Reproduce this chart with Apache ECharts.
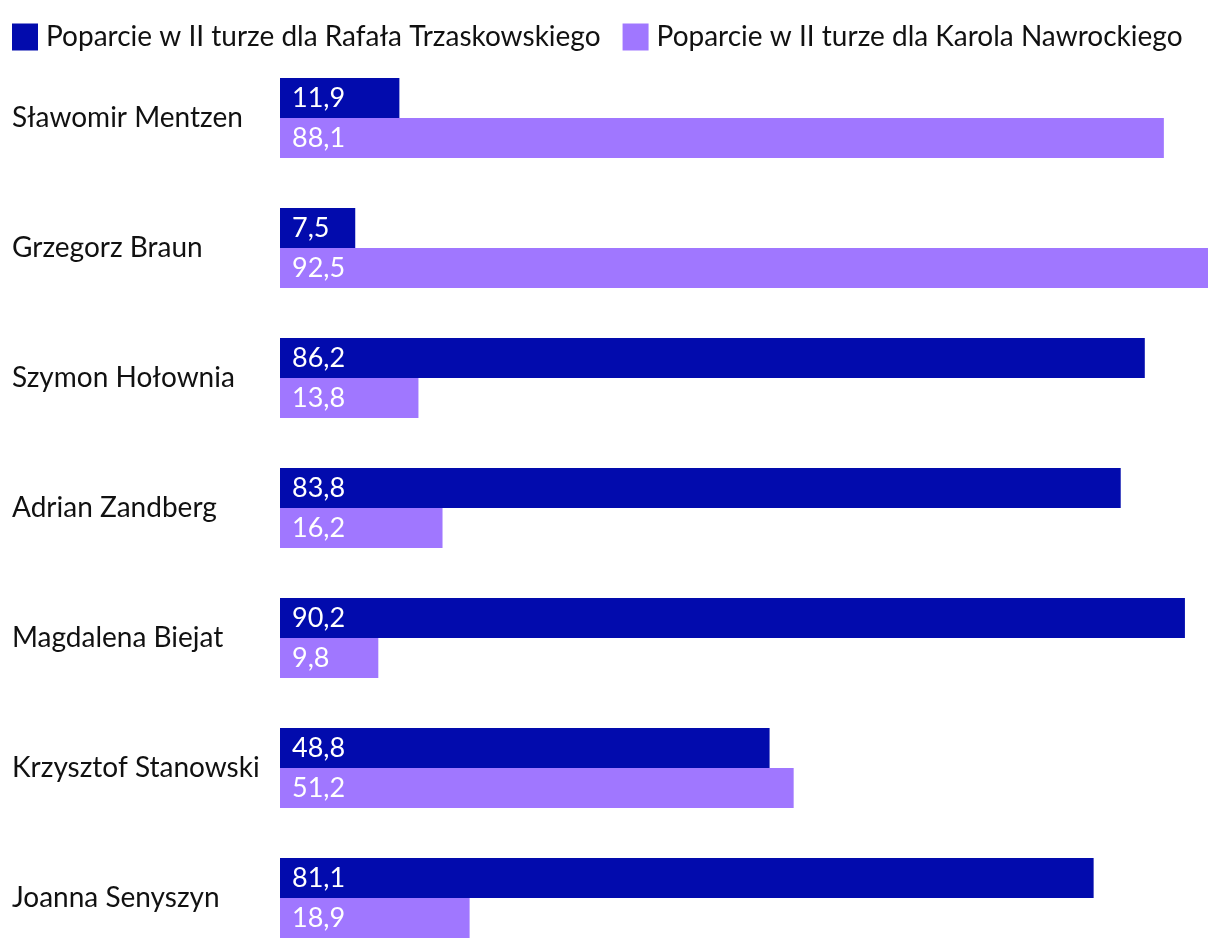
<!DOCTYPE html>
<html>
<head>
<meta charset="utf-8">
<script src="https://cdn.jsdelivr.net/npm/echarts@6/dist/echarts.min.js"></script>
<style>html,body{margin:0;padding:0;background:#fff}#c{width:1220px;height:950px}</style>
</head>
<body>
<div id="c"></div>
<script>
const categories = ['Sławomir Mentzen','Grzegorz Braun','Szymon Hołownia','Adrian Zandberg','Magdalena Biejat','Krzysztof Stanowski','Joanna Senyszyn'];
const seriesNames = ['Poparcie w II turze dla Rafała Trzaskowskiego','Poparcie w II turze dla Karola Nawrockiego'];
const trzaskowski = [11.9, 7.5, 86.2, 83.8, 90.2, 48.8, 81.1];
const nawrocki = [88.1, 92.5, 13.8, 16.2, 9.8, 51.2, 18.9];

const chart = echarts.init(document.getElementById('c'));
const fmt = p => String(p.value).replace('.', ',');
const lbl = {show:true, position:'insideLeft', distance:12, color:'#fff', fontFamily:'Lato', fontSize:27, formatter: fmt};
chart.setOption({
  animation:false,
  textStyle:{fontFamily:'Lato'},
  legend:{left:12, top:23, padding:0, itemWidth:26, itemHeight:27, itemGap:22, icon:'rect',
    textStyle:{fontFamily:'Lato', fontSize:28, color:'#111', padding:[0,0,0,3]},
    data: seriesNames},
  grid:{left:280, right:12, top:53, height:910, containLabel:false, outerBoundsMode:'none'},
  xAxis:{type:'value', min:0, max:'dataMax', show:false},
  yAxis:{type:'category', data:categories, inverse:true,
    axisLine:{show:false}, axisTick:{show:false},
    axisLabel:{align:'left', margin:268, fontFamily:'Lato', fontSize:28, color:'#111'}},
  series:[
    {name:seriesNames[0], type:'bar', data:trzaskowski, barWidth:40, barGap:'0%', itemStyle:{color:'#020BAD'}, label:lbl},
    {name:seriesNames[1], type:'bar', data:nawrocki, barWidth:40, barGap:'0%', itemStyle:{color:'#A077FF'}, label:lbl}
  ]
});
</script>
</body>
</html>
